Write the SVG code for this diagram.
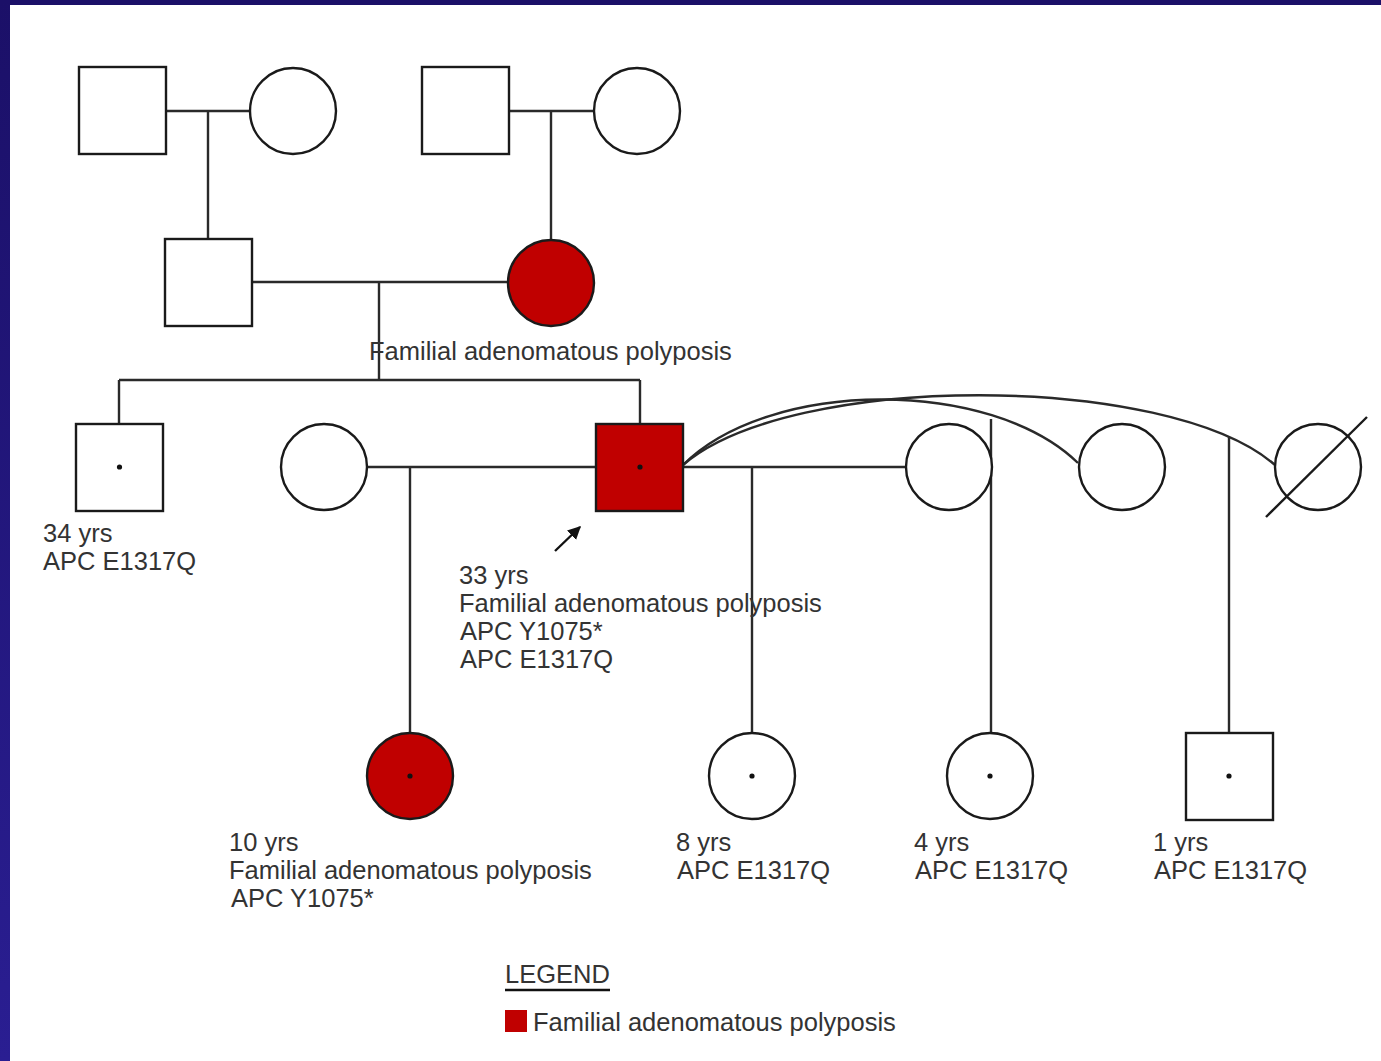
<svg xmlns="http://www.w3.org/2000/svg" width="1381" height="1061" viewBox="0 0 1381 1061">
<defs>
<linearGradient id="bd" x1="0" y1="0" x2="0" y2="1">
<stop offset="0" stop-color="#1b1068"/>
<stop offset="1" stop-color="#2a1e92"/>
</linearGradient>
<marker id="ah" viewBox="0 0 10 10" refX="9" refY="5" markerWidth="5.5" markerHeight="5.5" orient="auto">
<path d="M0,0 L10,5 L0,10 z" fill="#111"/>
</marker>
<style>
.n{fill:#fff;stroke:#1a1a1a;stroke-width:2.4}
.a{fill:#c00000;stroke:#1a1a1a;stroke-width:2.4}
.c{fill:none;stroke:#2a2a2a;stroke-width:2.4}
.d{fill:#111}
text{font-family:"Liberation Sans",Arial,sans-serif;font-size:25.5px;fill:#333}
</style>
</defs>
<rect width="1381" height="1061" fill="#fff"/>
<rect x="0" y="0" width="1381" height="5" fill="#1b1068"/>
<rect x="0" y="0" width="10" height="1061" fill="url(#bd)"/>

<g id="connectors">
<path class="c" d="M166,111 H250 M208,111 V239"/>
<path class="c" d="M509,111 H594 M551,111 V240"/>
<path class="c" d="M251,282 H508 M379,282 V380"/>
<path class="c" d="M119,380 H640 M119,380 V424 M640,380 V424"/>
<path class="c" d="M368,467 H596 M410,467 V733"/>
<path class="c" d="M683,467 H907 M752,467 V733"/>
<path class="c" d="M683,465 C770,378 991,378 1078,463"/>
<path class="c" d="M683,465 C790,372 1168,372 1275,465"/>
<path class="c" d="M991,419 V733"/>
<path class="c" d="M1229,437 V733"/>
<line x1="555" y1="551" x2="580" y2="527" stroke="#111" stroke-width="2.4" marker-end="url(#ah)"/>
</g>

<g id="gp1m"><rect class="n" x="79" y="67" width="87" height="87"/></g>
<g id="gp1f"><circle class="n" cx="293" cy="111" r="43"/></g>
<g id="gp2m"><rect class="n" x="422" y="67" width="87" height="87"/></g>
<g id="gp2f"><circle class="n" cx="637" cy="111" r="43"/></g>

<g id="father"><rect class="n" x="165" y="239" width="87" height="87"/></g>
<g id="mother"><circle class="a" cx="551" cy="283" r="43"/>
<text x="369" y="360">Familial adenomatous polyposis</text></g>

<g id="brother"><rect class="n" x="76" y="424" width="87" height="87"/><circle class="d" cx="119.5" cy="467" r="2.6"/>
<text x="43" y="542">34 yrs</text><text x="43" y="570">APC E1317Q</text></g>
<g id="wife1"><circle class="n" cx="324" cy="467" r="43"/></g>
<g id="proband"><rect class="a" x="596" y="424" width="87" height="87"/><circle class="d" cx="640" cy="467" r="2.6"/>
<text x="459" y="584">33 yrs</text><text x="459" y="612">Familial adenomatous polyposis</text><text x="460" y="640">APC Y1075*</text><text x="460" y="668">APC E1317Q</text></g>
<g id="wife2"><circle class="n" cx="949" cy="467" r="43"/></g>
<g id="wife3"><circle class="n" cx="1122" cy="467" r="43"/></g>
<g id="wife4"><circle class="n" cx="1318" cy="467" r="43"/><line x1="1266" y1="517" x2="1367" y2="417" stroke="#1a1a1a" stroke-width="2.4"/></g>

<g id="daughter"><circle class="a" cx="410" cy="776" r="43"/><circle class="d" cx="410" cy="776" r="2.6"/>
<text x="229" y="851">10 yrs</text><text x="229" y="879">Familial adenomatous polyposis</text><text x="231" y="907">APC Y1075*</text></g>
<g id="child8"><circle class="n" cx="752" cy="776" r="43"/><circle class="d" cx="752" cy="776" r="2.6"/>
<text x="676" y="851">8 yrs</text><text x="677" y="879">APC E1317Q</text></g>
<g id="child4"><circle class="n" cx="990" cy="776" r="43"/><circle class="d" cx="990" cy="776" r="2.6"/>
<text x="914" y="851">4 yrs</text><text x="915" y="879">APC E1317Q</text></g>
<g id="child1"><rect class="n" x="1186" y="733" width="87" height="87"/><circle class="d" cx="1229" cy="776" r="2.6"/>
<text x="1153" y="851">1 yrs</text><text x="1154" y="879">APC E1317Q</text></g>

<g id="legend">
<text x="505" y="983">LEGEND</text>
<line x1="505" y1="990" x2="610" y2="990" stroke="#111" stroke-width="2.4"/>
<rect x="505" y="1010" width="22" height="22" fill="#c00000"/>
<text x="533" y="1031">Familial adenomatous polyposis</text>
</g>
</svg>
